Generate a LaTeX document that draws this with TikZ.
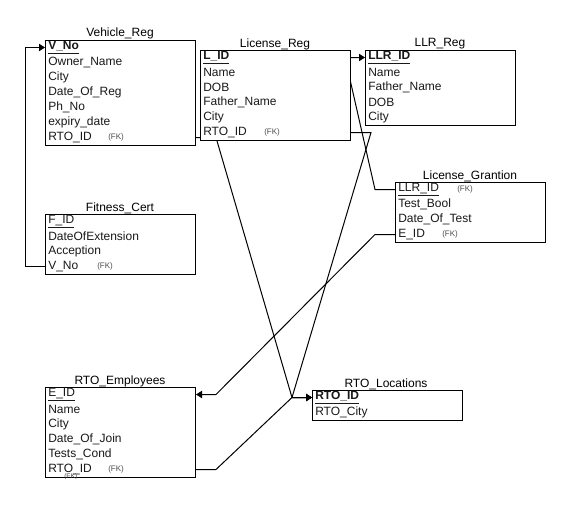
\documentclass[tikz,border=0pt]{standalone}
\usepackage{fontspec}
\setmainfont{Liberation Sans}
\usetikzlibrary{arrows.meta,calc}
\pgfdeclarelayer{paper}
\pgfdeclarelayer{edges}
\pgfsetlayers{paper,edges,main}
\newcommand\pkey[1]{\underline{\textbf{#1}}}
\newcommand\pkeyl[1]{\underline{#1}}
\begin{document}
\begin{tikzpicture}[x=0.75pt,y=-0.75pt,
  tbl/.style={draw=black,line width=0.75pt,fill=white,inner sep=0pt,anchor=north west},
  row/.style={anchor=west,inner sep=0pt,font=\fontsize{9}{10}\selectfont,text=black!90},
  fk/.style={anchor=west,inner sep=0pt,font=\fontsize{6}{7}\selectfont,text=black!70},
  ttl/.style={inner sep=0pt,font=\fontsize{9}{10}\selectfont},
  link/.style={draw=black,line width=0.75pt},
  tip/.style={-{Triangle[length=4.5pt,width=5.5pt]}}]
\begin{pgfonlayer}{paper}
  \fill[white] (0,0) rectangle (571,504);
\end{pgfonlayer}
\useasboundingbox (0,0) rectangle (571,504);

% ---------- Vehicle_Reg ----------
\node[ttl] (vrt) at (120,33) {Vehicle\_Reg};
\node[tbl,minimum width=112.5pt,minimum height=78.75pt] (vr) at (45,40) {};
\node[row] (vr1) at (48,47.5)  {\pkey{V\_No}};
\node[row] (vr2) at (48,62.5)  {Owner\_Name};
\node[row] (vr3) at (48,77.5)  {City};
\node[row] (vr4) at (48,92.5)  {Date\_Of\_Reg};
\node[row] (vr5) at (48,107.5) {Ph\_No};
\node[row] (vr6) at (48,122.5) {expiry\_date};
\node[row] (vr7) at (48,137.5) {RTO\_ID};
\node[fk]  (vr7k) at (108,137.5) {(FK)};

% ---------- License_Reg ----------
\node[ttl] (lrt) at (275,44) {License\_Reg};
\node[tbl,minimum width=112.5pt,minimum height=67.5pt] (lr) at (200,50) {};
\node[row] (lr1) at (203,57.5)  {\pkey{L\_ID}};
\node[row] (lr2) at (203,72.5)  {Name};
\node[row] (lr3) at (203,87.5)  {DOB};
\node[row] (lr4) at (203,102.5) {Father\_Name};
\node[row] (lr5) at (203,117.5) {City};
\node[row] (lr6) at (203,132.5) {RTO\_ID};
\node[fk]  (lr6k) at (264,132.5) {(FK)};

% ---------- LLR_Reg ----------
\node[ttl] (llt) at (440,44) {LLR\_Reg};
\node[tbl,minimum width=112.5pt,minimum height=56.25pt] (ll) at (365,50) {};
\node[row] (ll1) at (368,57.5)  {\pkey{LLR\_ID}};
\node[row] (ll2) at (368,72.5)  {Name};
\node[row] (ll3) at (368,87.5)  {Father\_Name};
\node[row] (ll4) at (368,102.5) {DOB};
\node[row] (ll5) at (368,117.5) {City};

% ---------- License_Grantion ----------
\node[ttl] (lgt) at (470,176) {License\_Grantion};
\node[tbl,minimum width=112.5pt,minimum height=45pt] (lg) at (395,182) {};
\node[row] (lg1) at (398,189.5) {\pkeyl{LLR\_ID}};
\node[fk]  (lg1k) at (457,189.5) {(FK)};
\node[row] (lg2) at (398,204.5) {Test\_Bool};
\node[row] (lg3) at (398,219.5) {Date\_Of\_Test};
\node[row] (lg4) at (398,234.5) {E\_ID};
\node[fk]  (lg4k) at (442,234.5) {(FK)};

% ---------- Fitness_Cert ----------
\node[ttl] (fct) at (120,208) {Fitness\_Cert};
\node[tbl,minimum width=112.5pt,minimum height=45pt] (fc) at (45,214) {};
\node[row] (fc1) at (48,221.5) {\pkeyl{F\_ID}};
\node[row] (fc2) at (48,236.5) {DateOfExtension};
\node[row] (fc3) at (48,251.5) {Acception};
\node[row] (fc4) at (48,266.5) {V\_No};
\node[fk]  (fc4k) at (97,266.5) {(FK)};

% ---------- RTO_Employees ----------
\node[ttl] (ret) at (120,381) {RTO\_Employees};
\node[tbl,minimum width=112.5pt,minimum height=67.5pt] (re) at (45,387) {};
\node[row] (re1) at (48,394.5) {\pkeyl{E\_ID}};
\node[row] (re2) at (48,409.5) {Name};
\node[row] (re3) at (48,424.5) {City};
\node[row] (re4) at (48,439.5) {Date\_Of\_Join};
\node[row] (re5) at (48,454.5) {Tests\_Cond};
\node[row] (re6) at (48,469.5) {RTO\_ID};
\node[fk]  (re6k) at (108,469.5) {(FK)};
\begin{scope}
  \clip (re.north west) rectangle (re.south east);
  \node[fk,font=\fontsize{5}{6}\selectfont] (re6s) at (64,477) {(FK)};
\end{scope}

% ---------- RTO_Locations ----------
\node[ttl] (rlt) at (386,384) {RTO\_Locations};
\node[tbl,minimum width=112.5pt,minimum height=22.5pt] (rl) at (312,390) {};
\node[row] (rl1) at (315,397.5) {\pkey{RTO\_ID}};
\node[row] (rl2) at (315,412.5) {RTO\_City};

% ---------- relationships (drawn beneath the tables) ----------
\coordinate (j) at (292,397.5);
\begin{pgfonlayer}{edges}
  % Fitness_Cert.V_No -> Vehicle_Reg.V_No
  \draw[link,tip] (fc.west |- fc4) -- ++(-20,0) |- (vr.west |- vr1);
  % RTO_ID foreign keys -> RTO_Locations.RTO_ID
  \draw[link,tip] (vr.east |- vr7) -- ++(20,0) -- (j) -- (rl.west |- rl1);
  \draw[link,tip] (lr.east |- lr6) -- ++(20,0) -- (j) -- (rl.west |- rl1);
  \draw[link,tip] (re.east |- re6) -- ++(20,0) -- (j) -- (rl.west |- rl1);
  % License_Grantion.LLR_ID -> LLR_Reg.LLR_ID
  \draw[link,tip] (lg.west |- lg1) -- ++(-20,0) -- ($(ll.west |- ll1)+(-20,0)$) -- (ll.west |- ll1);
  % License_Grantion.E_ID -> RTO_Employees.E_ID
  \draw[link,tip] (lg.west |- lg4) -- ++(-20,0) -- ($(re.east |- re1)+(20,0)$) -- (re.east |- re1);
\end{pgfonlayer}
\end{tikzpicture}
\end{document}
